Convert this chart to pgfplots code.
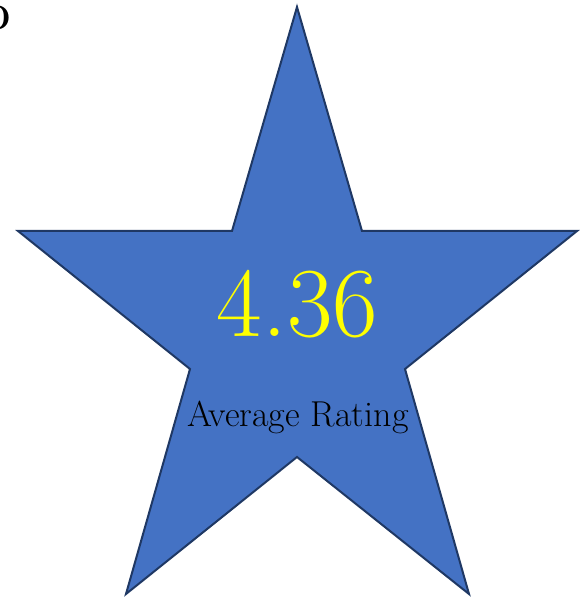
\documentclass[border=0pt]{standalone}
\usepackage{fontspec}
\usepackage{pgfplots}
\pgfplotsset{compat=1.18}
\definecolor{starfill}{HTML}{4472C4}
\definecolor{staredge}{HTML}{1F3864}
\definecolor{numyellow}{HTML}{FFFF00}
\begin{document}
\begin{tikzpicture}
\begin{axis}[
  scale only axis,
  width=586pt, height=598pt,
  xmin=0, xmax=586, ymin=0, ymax=598,
  hide axis,
  clip=false,
]
\path (rel axis cs:0,0) rectangle (rel axis cs:1,1);
\addplot[fill=starfill, draw=staredge, line width=2pt, line join=miter] coordinates {
  (297,591) (232,367) (18,367) (190,229) (126,4) (297,141)
  (469,4) (405,229) (577,367) (362,367)
} -- cycle;
\node[text=numyellow, anchor=base, inner sep=0pt] at (axis cs:297.5,261)
  {\fontsize{99}{99}\selectfont 4.36};
\node[text=black, anchor=base, inner sep=0pt] at (axis cs:298,171)
  {\fontsize{36}{36}\selectfont Average Rating};
\node[overlay, text=black, anchor=base east, inner sep=0pt] at (axis cs:11,568)
  {\fontsize{34}{34}\selectfont\bfseries O};
\end{axis}
\end{tikzpicture}
\end{document}
